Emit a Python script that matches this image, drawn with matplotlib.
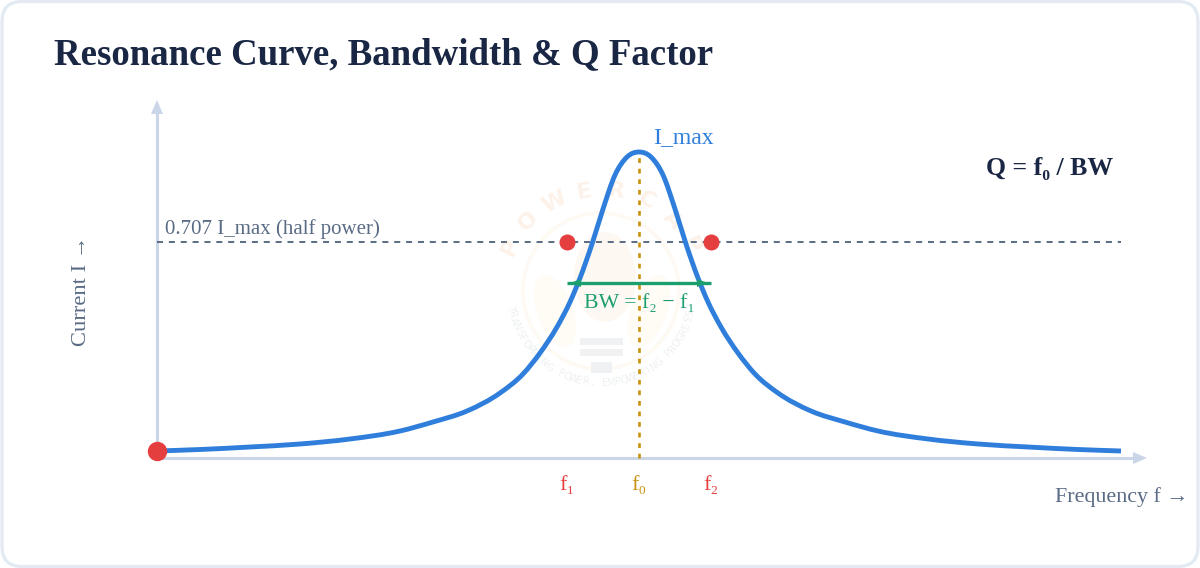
import matplotlib
matplotlib.use("Agg")
import matplotlib.pyplot as plt
import numpy as np
from matplotlib.patches import Circle, Ellipse, FancyBboxPatch, PathPatch, Rectangle
from matplotlib.path import Path

SERIF = ["Liberation Serif", "DejaVu Serif"]
plt.rcParams["font.family"] = SERIF

# values (arbitrary units, peak current = 306)
curve_freq = [0, 43, 93, 143, 193, 243, 276, 310, 343, 366, 383, 400, 413, 423, 435, 446,
              458, 470, 482, 494, 506, 518, 529, 541, 551, 564, 581, 598, 621, 654, 688,
              721, 771, 821, 871, 921, 964]
curve_current = [7, 8.5, 11, 14, 19, 27, 36, 47, 65, 84, 105, 131, 156, 180, 214, 249,
                 283, 301, 306, 301, 283, 249, 214, 180, 156, 131, 105, 84, 65, 47, 36,
                 27, 19, 14, 11, 8.5, 7]

f0 = 482
f1 = 410
f2 = 554
i_half = 216.4
x_end = 964
bw_current = 175

tick_freq = [f1, f0, f2]
tick_labels = ["f₁", "f₀", "f₂"]
tick_colors = ["#e53e3e", "#c9920e", "#e53e3e"]

WATERMARK_TOP = "POWERCAP"
WATERMARK_BOTTOM = "TRANSFORMING POWER, EMPOWERING PROGRESS"

BLUE = "#2f7edb"
RED = "#e53e3e"
GREEN = "#1c9f6e"
SLATE = "#5a6b85"
NAVY = "#1a2744"
AXIS = "#cbd5e8"


def smooth_path(xs, ys):
    # bezier through the read points, so the stroke has no corners
    xs = np.asarray(xs, dtype=float)
    ys = np.asarray(ys, dtype=float)
    slopes = np.gradient(ys, xs)
    verts = [(xs[0], ys[0])]
    codes = [Path.MOVETO]
    for i in range(len(xs) - 1):
        dx = (xs[i + 1] - xs[i]) / 3
        verts += [(xs[i] + dx, ys[i] + slopes[i] * dx),
                  (xs[i + 1] - dx, ys[i + 1] - slopes[i + 1] * dx),
                  (xs[i + 1], ys[i + 1])]
        codes += [Path.CURVE4] * 3
    return Path(verts, codes)


def arc_text(ax, text, cx, cy, radius, start, end, **kwargs):
    # one text per letter, turned along the circle
    angles = np.linspace(start, end, len(text))
    for ch, ang in zip(text, angles):
        x = cx + radius * np.cos(np.radians(ang))
        y = cy + radius * np.sin(np.radians(ang))
        rot = ang - 90 if np.sin(np.radians(ang)) > 0 else ang + 90
        ax.text(x, y, ch, rotation=rot, rotation_mode="anchor", ha="center", va="center", **kwargs)


fig = plt.figure(figsize=(12, 5.68), dpi=100)
ax = fig.add_axes([0, 0, 1, 1])
ax.set_xlim(-157, 1043)
ax.set_ylim(-110, 458)
ax.axis("off")

# card
ax.add_patch(FancyBboxPatch((-155, -108.5), 1196, 565, boxstyle="round,pad=0,rounding_size=20",
                            facecolor="white", edgecolor="#e4eaf3", linewidth=2.3, zorder=0))

# watermark
wm_x, wm_y = 444, 167
ax.add_patch(Circle((wm_x, wm_y), 78, fill=False, edgecolor="#fef9f2", linewidth=2.5, zorder=1))
ax.add_patch(Ellipse((wm_x + 4, wm_y + 14), 62, 90, facecolor="#fef8f3", edgecolor="none", zorder=1))
ax.add_patch(Ellipse((wm_x - 46, wm_y - 20), 36, 76, angle=20, facecolor="#fffcf6", edgecolor="none", zorder=1))
ax.add_patch(Ellipse((wm_x + 48, wm_y - 20), 36, 76, angle=-20, facecolor="#fffcf6", edgecolor="none", zorder=1))
arc_text(ax, WATERMARK_TOP, wm_x, wm_y, 101, 154, 27, fontsize=16, fontweight="bold",
         family="DejaVu Sans", color="#fdf2ea", zorder=1)
arc_text(ax, WATERMARK_BOTTOM, wm_x, wm_y, 92, 191, 346, fontsize=7, family="DejaVu Sans",
         color="#eef0f2", zorder=1)
for bar_y, bar_h, bar_w in [(113, 7, 43), (102, 7, 43), (85, 11, 21)]:
    ax.add_patch(Rectangle((wm_x - bar_w / 2 + 0.5, bar_y), bar_w, bar_h, facecolor="#f0f1f3",
                           edgecolor="none", zorder=1))

# axes arrows
ax.plot([0, 0], [0, 345], color=AXIS, linewidth=2.2, solid_capstyle="butt", zorder=2)
ax.plot([0, 977], [0, 0], color=AXIS, linewidth=2.2, solid_capstyle="butt", zorder=2)
ax.fill([-6, 6, 0], [344, 344, 358], color=AXIS, linewidth=0, zorder=2)
ax.fill([976, 976, 990], [-6, 6, 0], color=AXIS, linewidth=0, zorder=2)

# half power line and centre line
ax.plot([0, x_end], [i_half, i_half], color=SLATE, linewidth=1.4, dashes=(3.1, 3.0), zorder=3)
ax.plot([f0, f0], [0, 306], color="#c9920e", linewidth=1.9, dashes=(1.8, 2.2), zorder=3)

# resonance curve
ax.add_patch(PathPatch(smooth_path(curve_freq, curve_current), fill=False, edgecolor=BLUE,
                       linewidth=3.5, capstyle="butt", joinstyle="round", zorder=4))

# bandwidth bar
ax.plot([f1, f2], [bw_current, bw_current], color=GREEN, linewidth=2.4, solid_capstyle="butt", zorder=5)
ax.fill([f1 + 3, f1 + 14, f1 + 14], [bw_current, bw_current + 4, bw_current - 4], color=GREEN,
        linewidth=0, zorder=5)
ax.fill([f2 - 3, f2 - 14, f2 - 14], [bw_current, bw_current + 4, bw_current - 4], color=GREEN,
        linewidth=0, zorder=5)

# points
ax.scatter([f1, f2], [i_half, i_half], s=133, color=RED, linewidths=0, zorder=6)
ax.scatter([0], [curve_current[0]], s=195, color=RED, linewidths=0, zorder=6)

# text
ax.text(-103, 403, "Resonance Curve, Bandwidth & Q Factor", fontsize=26.6, fontweight="bold",
        color=NAVY, va="center", ha="left")
ax.text(496, 320, "I_max", fontsize=17, color=BLUE, va="center", ha="left")
ax.text(8, 229, "0.707 I_max (half power)", fontsize=15, color=SLATE, va="center", ha="left")
ax.text(829, 290, "Q = f₀ / BW", fontsize=18.5, fontweight="bold", color=NAVY, va="center", ha="left")
ax.text(f0, 154, "BW = f₂ − f₁", fontsize=15.7, color=GREEN, va="center", ha="center", zorder=5)
ax.text(-75, 167, "Current I →", fontsize=16.2, color=SLATE, rotation=90, va="center", ha="center")
ax.text(898, -39, "Frequency f →", fontsize=15.8, color=SLATE, va="center", ha="left")
for freq, label, col in zip(tick_freq, tick_labels, tick_colors):
    ax.text(freq, -28, label, fontsize=16, color=col, va="center", ha="center")

fig.savefig("out.png", dpi=100)
